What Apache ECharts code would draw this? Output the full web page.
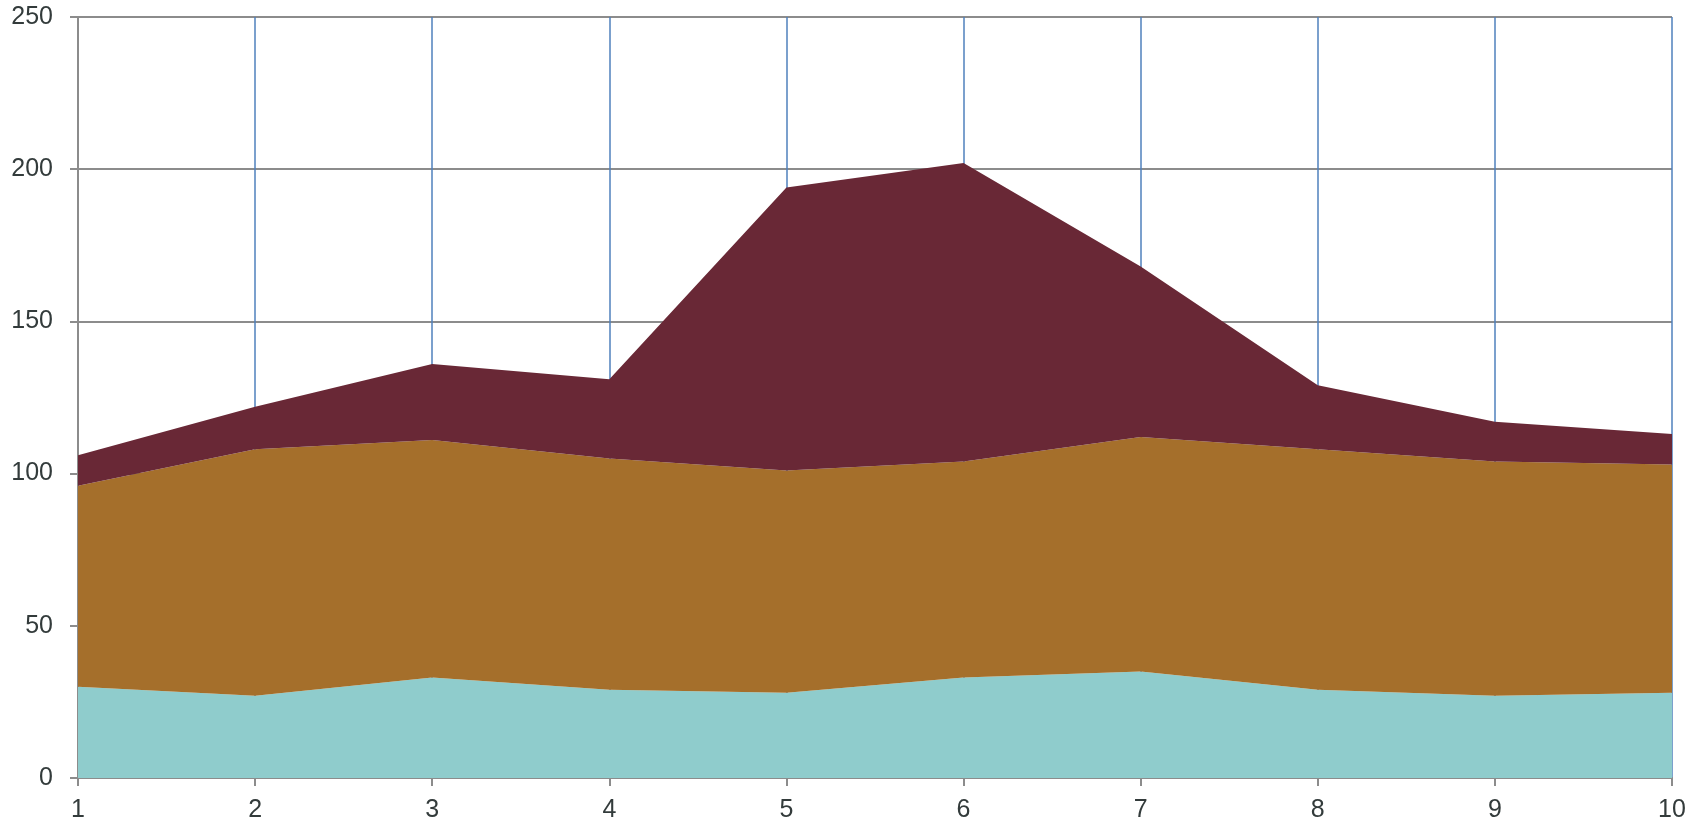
<!DOCTYPE html>
<html>
<head>
<meta charset="utf-8">
<script src="https://cdn.jsdelivr.net/npm/echarts@6/dist/echarts.min.js"></script>
<style>
  html, body { margin: 0; padding: 0; background: #fff; }
  #chart { width: 1705px; height: 826px; }
</style>
</head>
<body>
<div id="chart"></div>
<script>
// Categories along the x axis
const categories = ['1', '2', '3', '4', '5', '6', '7', '8', '9', '10'];

// Stacked series values (bottom to top)
const seriesA = [30, 27, 33, 29, 28, 33, 35, 29, 27, 28];
const seriesB = [66, 81, 78, 76, 73, 71, 77, 79, 77, 75];
const seriesC = [10, 14, 25, 26, 93, 98, 56, 21, 13, 10];

// Value axis range
const yMin = 0;
const yMax = 250;
const yStep = 50;

const colors = ['#8fcccc', '#a56f2b', '#692836'];

const chart = echarts.init(document.getElementById('chart'));

function areaSeries(name, data, color) {
  return {
    name: name,
    type: 'line',
    stack: 'total',
    data: data,
    symbol: 'none',
    lineStyle: { width: 0 },
    areaStyle: { color: color, opacity: 1 },
    itemStyle: { color: color },
    emphasis: { disabled: true },
    animation: false
  };
}

chart.setOption({
  animation: false,
  grid: { left: 78, right: 33, top: 17, bottom: 48, containLabel: false },
  xAxis: {
    type: 'category',
    data: categories,
    boundaryGap: false,
    axisLine: { show: true, lineStyle: { color: '#8c8c8c', width: 2 } },
    axisTick: { show: true, length: 8, lineStyle: { color: '#8c8c8c', width: 2 } },
    axisLabel: {
      color: '#333b3b',
      fontFamily: 'Liberation Sans, Arial, sans-serif',
      fontSize: 25,
      margin: 20
    },
    splitLine: { show: true, lineStyle: { color: '#4f81bd', width: 1.5 } }
  },
  yAxis: {
    type: 'value',
    min: yMin,
    max: yMax,
    interval: yStep,
    axisLine: { show: true, lineStyle: { color: '#8c8c8c', width: 2 } },
    axisTick: { show: true, length: 8, lineStyle: { color: '#8c8c8c', width: 2 } },
    axisLabel: {
      color: '#333b3b',
      fontFamily: 'Liberation Sans, Arial, sans-serif',
      fontSize: 25,
      margin: 25
    },
    splitLine: { show: true, lineStyle: { color: '#8c8c8c', width: 2 } }
  },
  series: [
    areaSeries('A', seriesA, colors[0]),
    areaSeries('B', seriesB, colors[1]),
    areaSeries('C', seriesC, colors[2])
  ]
});
</script>
</body>
</html>
